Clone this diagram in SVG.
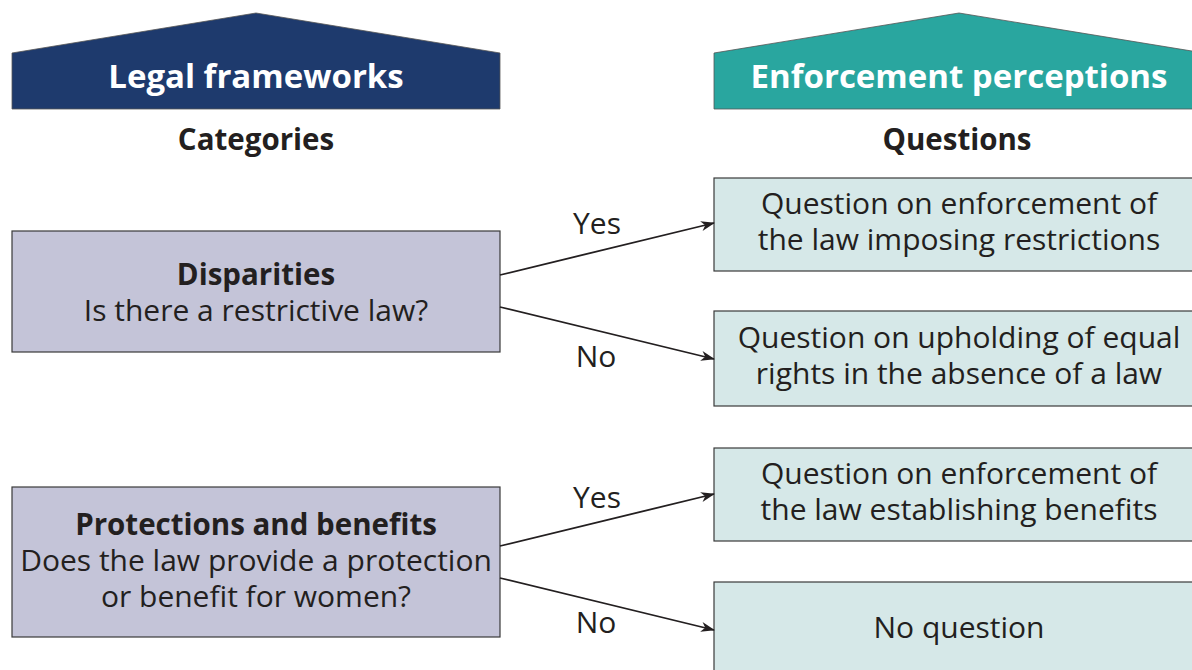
<svg xmlns="http://www.w3.org/2000/svg" width="1192" height="670" viewBox="0 0 1192 670">
<style>
text{font-family:"Open Sans","Noto Sans","DejaVu Sans",sans-serif;fill:#231f20;text-anchor:middle}
.hd{font-weight:700;font-size:33px;fill:#fff}
.sub{font-weight:700;font-size:29.5px}
.b{font-weight:700;font-size:29.5px}
.t{font-size:30px}
.lab{font-size:30px}
.lbox{fill:#c4c4d8;stroke:#3a3a3a;stroke-width:1.2}
.rbox{fill:#d6e8e8;stroke:#3a3a3a;stroke-width:1.2}
.con{stroke:#231f20;stroke-width:1.8;fill:none;marker-end:url(#ah)}
</style>
<defs>
<marker id="ah" viewBox="0 0 14 10" refX="13" refY="5" markerWidth="14" markerHeight="10" markerUnits="userSpaceOnUse" orient="auto">
<path d="M0,0 L14,5 L0,10 L4,5 Z" fill="#231f20"/>
</marker>
</defs>
<rect width="1192" height="670" fill="#fff"/>
<g id="header-legal">
<polygon points="12,53 256,13 500,53 500,109 12,109" fill="#1e3a6d" stroke="#555" stroke-width="0.8"/>
<text class="hd" x="256" y="88">Legal frameworks</text>
<text class="sub" x="256" y="150">Categories</text>
</g>
<g id="header-enforcement">
<polygon points="714,53 959,13 1204,53 1204,109 714,109" fill="#29a69f" stroke="#555" stroke-width="0.8"/>
<text class="hd" x="959" y="88">Enforcement perceptions</text>
<text class="sub" x="957" y="150">Questions</text>
</g>
<g id="disparities">
<rect class="lbox" x="12" y="231" width="488" height="121"/>
<text class="t" x="256" y="285"><tspan class="b">Disparities</tspan><tspan x="256" dy="36">Is there a restrictive law?</tspan></text>
</g>
<g id="protections">
<rect class="lbox" x="12" y="487" width="488" height="150"/>
<text class="t" x="256" y="535"><tspan class="b">Protections and benefits</tspan><tspan x="256" dy="36">Does the law provide a protection</tspan><tspan x="256" dy="36">or benefit for women?</tspan></text>
</g>
<g id="q1">
<rect class="rbox" x="714" y="178" width="490" height="93"/>
<text class="t" x="959" y="214">Question on enforcement of<tspan x="959" dy="36">the law imposing restrictions</tspan></text>
</g>
<g id="q2">
<rect class="rbox" x="714" y="311" width="490" height="95"/>
<text class="t" x="959" y="348">Question on upholding of equal<tspan x="959" dy="36">rights in the absence of a law</tspan></text>
</g>
<g id="q3">
<rect class="rbox" x="714" y="448" width="490" height="93"/>
<text class="t" x="959" y="484">Question on enforcement of<tspan x="959" dy="36">the law establishing benefits</tspan></text>
</g>
<g id="q4">
<rect class="rbox" x="714" y="582" width="490" height="100"/>
<text class="t" x="959" y="638">No question</text>
</g>
<g id="connectors">
<line class="con" x1="500" y1="275" x2="714" y2="223"/>
<line class="con" x1="500" y1="307" x2="714" y2="359"/>
<line class="con" x1="500" y1="546" x2="714" y2="494"/>
<line class="con" x1="500" y1="578" x2="714" y2="630"/>
<text class="lab" x="597" y="234">Yes</text>
<text class="lab" x="596" y="367">No</text>
<text class="lab" x="597" y="508">Yes</text>
<text class="lab" x="596" y="633">No</text>
</g>
</svg>
